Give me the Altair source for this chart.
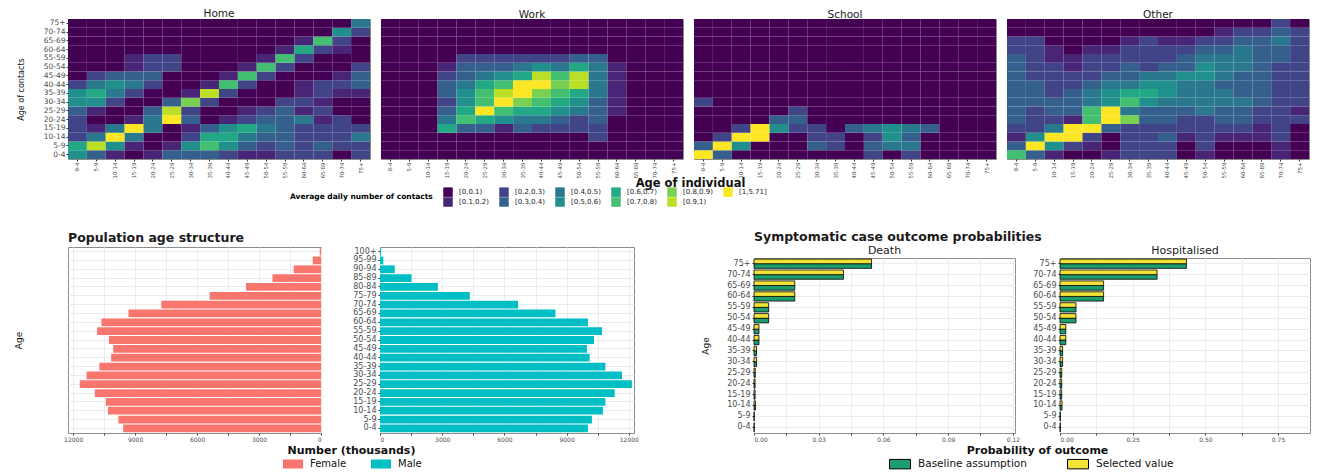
import altair as alt
import pandas as pd

# ---------------- data ----------------
ages = ["0-4", "5-9", "10-14", "15-19", "20-24", "25-29", "30-34", "35-39",
        "40-44", "45-49", "50-54", "55-59", "60-64", "65-69", "70-74", "75+"]
bin_labels = ["[0,0.1)", "[0.1,0.2)", "[0.2,0.3)", "[0.3,0.4)", "[0.4,0.5)", "[0.5,0.6)",
              "[0.6,0.7)", "[0.7,0.8)", "[0.8,0.9)", "[0.9,1)", "[1,5.71]"]
bin_colors = ["#440154", "#482576", "#414487", "#35608D", "#2A788E", "#21908C",
              "#22A884", "#43BF71", "#7AD151", "#BBDF27", "#FDE725"]
legend_order = ["[0,0.1)", "[0.2,0.3)", "[0.4,0.5)", "[0.6,0.7)", "[0.8,0.9)", "[1,5.71]",
                "[0.1,0.2)", "[0.3,0.4)", "[0.5,0.6)", "[0.7,0.8)", "[0.9,1)"]
settings = ["Home", "Work", "School", "Other"]

# contact-bin codes (hex digit = index into bin_labels); row = age of contacts (0-4 first),
# column = age of individual
home_rows = [
    "5310133321122202", "6951015753232322", "24a4002664332224", "214a401356432222",
    "20014a3012334120", "3100392001231200", "5520038200022100", "5642001920001211",
    "2454200172001223", "0233300017200013", "0001220001720002", "0001220000172000",
    "0000000000016210", "0000000000001720", "0000000000000052", "0000000000000004",
]
work_rows = [
    "0000000000000000", "0000000000000000", "0000000000020000", "0006331322220000",
    "0004765443230000", "00036a7665431000", "000257a876531000", "0003579a87641000",
    "0003467aa8941000", "0002345697941000", "0001333454641000", "0000222222330000",
    "0000000000000000", "0000000000000000", "0000000000000000", "0000000000000000",
]
school_rows = [
    "a300000002020000", "3a50003203440000", "02aa002202530000", "002a522034543000",
    "0000330000000000", "0000020000000000", "2000000000000000", "0000000000000000",
    "0000000000000000", "0000000000000000", "0000000000000000", "0000000000000000",
    "0000000000000000", "0000000000000000", "0000000000000000", "0000000000000000",
]
other_rows = [
    "7310012220100010", "3a52102220200010", "15aa202231211120", "224aa32222222120",
    "32217a8332233222", "32337a4333433221", "3333457544444322", "3323456654443322",
    "3322344554433322", "3222233445543322", "3221223233544322", "3211222223444332",
    "2210112222334332", "2200001211223342", "0000000000012232", "0000000000000020",
]
matrices = [home_rows, work_rows, school_rows, other_rows]

pyr_ages = ["0-4", "5-9", "10-14", "15-19", "20-24", "25-29", "30-34", "35-39", "40-44",
            "45-49", "50-54", "55-59", "60-64", "65-69", "70-74", "75-79", "80-84",
            "85-89", "90-94", "95-99", "100+"]
female = [9580, 9810, 10320, 10420, 10950, 11680, 11350, 10730, 10160, 10060, 10270,
          10840, 10630, 9320, 7730, 5390, 3630, 2350, 1320, 400, 60]
male = [10030, 10220, 10750, 10870, 11320, 12150, 11670, 10870, 10110, 9980, 10320,
        10710, 10030, 8460, 6660, 4330, 2790, 1520, 710, 160, 50]

death_baseline = [0.0001, 0.0001, 0.0007, 0.0005, 0.0005, 0.0006, 0.0012, 0.0012,
                  0.0023, 0.0023, 0.0068, 0.0068, 0.0189, 0.0189, 0.0415, 0.0545]
death_selected = [0.0001, 0.0001, 0.0007, 0.0005, 0.0005, 0.0006, 0.0012, 0.0012,
                  0.0023, 0.0023, 0.0068, 0.0068, 0.0189, 0.0189, 0.0415, 0.0545]
hosp_baseline = [0.001, 0.001, 0.007, 0.006, 0.006, 0.006, 0.009, 0.009,
                 0.020, 0.020, 0.055, 0.055, 0.150, 0.150, 0.334, 0.435]
hosp_selected = [0.001, 0.001, 0.007, 0.006, 0.006, 0.006, 0.009, 0.009,
                 0.020, 0.020, 0.055, 0.055, 0.150, 0.150, 0.334, 0.435]

series_names = ["Baseline assumption", "Selected value"]
series_colors = ["#1B9E6E", "#F2E33A"]
sex_names = ["Female", "Male"]
sex_colors = ["#F8766D", "#00BFC4"]

# ---------------- tables ----------------
heat_records = []
for s, rows in zip(settings, matrices):
    for i, row in enumerate(rows):
        for j, ch in enumerate(row):
            heat_records.append({"setting": s, "contact": ages[i], "individual": ages[j],
                                 "bin": bin_labels[int(ch, 16)]})
heat_df = pd.DataFrame(heat_records)

pyr_df = pd.DataFrame(
    [{"age": a, "sex": "Female", "pop": v} for a, v in zip(pyr_ages, female)] +
    [{"age": a, "sex": "Male", "pop": v} for a, v in zip(pyr_ages, male)]
)

out_records = []
for kind, base, sel in [("Death", death_baseline, death_selected),
                        ("Hospitalised", hosp_baseline, hosp_selected)]:
    for a, b, s in zip(ages, base, sel):
        out_records.append({"outcome": kind, "age": a, "series": "Baseline assumption", "prob": b})
        out_records.append({"outcome": kind, "age": a, "series": "Selected value", "prob": s})
out_df = pd.DataFrame(out_records)

FONT = "DejaVu Sans"
LBL = "#4D4D4D"
DARK = "#111111"

# ---------------- heatmaps ----------------
heat_color_scale = alt.Scale(domain=bin_labels, range=bin_colors)


def heat_panel(setting, idx):
    if idx == 0:
        yaxis = alt.Axis(title="Age of contacts", labelFontSize=7.5, tickSize=2, labelPadding=1,
                         titlePadding=18, titleFontSize=8)
        legend = alt.Legend(title="Average daily number of contacts", orient="none",
                            legendX=222, legendY=168, direction="horizontal", columns=6,
                            values=legend_order, titleOrient="left", titleFontSize=7.5,
                            titleFontWeight="bold", titleAnchor="middle", titleBaseline="middle",
                            titlePadding=10, labelFontSize=7, symbolType="square",
                            symbolSize=90, symbolStrokeWidth=0, rowPadding=0,
                            columnPadding=10, labelOffset=6)
    else:
        yaxis = None
        legend = None
    if setting == "Work":
        xaxis = alt.Axis(title="Age of individual", labelAngle=-90, labelFontSize=5.5,
                         tickSize=2, labelPadding=1, titleX=309, titleY=18,
                         titleBaseline="top", titleFontSize=11.5, titleFontWeight="bold",
                         titleColor=DARK)
    else:
        xaxis = alt.Axis(title=None, labelAngle=-90, labelFontSize=5.5, tickSize=2,
                         labelPadding=1)
    return alt.Chart(heat_df).transform_filter(
        alt.datum.setting == setting
    ).mark_rect().encode(
        x=alt.X("individual:N", sort=ages, axis=xaxis),
        y=alt.Y("contact:N", sort=ages[::-1], axis=yaxis),
        color=alt.Color("bin:N", scale=heat_color_scale, legend=legend),
    ).properties(width=302, height=140,
                 title=alt.TitleParams(setting, offset=-1, fontSize=10.5))


top_row = alt.hconcat(*[heat_panel(s, i) for i, s in enumerate(settings)],
                      spacing=11, bounds="flush")

# ---------------- population pyramid ----------------
sex_scale = alt.Scale(domain=sex_names, range=sex_colors)
pyr_ticks = list(range(0, 12001, 1500))
pyr_label_expr = "datum.value % 3000 == 0 ? '' + datum.value : ''"
rect_path = "M-1,-0.45H1V0.45H-1Z"

female_chart = alt.Chart(pyr_df).transform_filter(
    alt.datum.sex == "Female"
).mark_bar().encode(
    x=alt.X("pop:Q", scale=alt.Scale(domain=[0, 12250], reverse=True, nice=False, zero=False),
            axis=alt.Axis(values=pyr_ticks, labelExpr=pyr_label_expr, labelFontSize=6,
                          tickSize=2, labelPadding=1, title="Number (thousands)", titleX=283,
                          titleY=11, titleBaseline="top", titleFontSize=11,
                          titleFontWeight="bold", titleColor=DARK)),
    y=alt.Y("age:N", sort=pyr_ages[::-1],
            scale=alt.Scale(paddingInner=0.12, paddingOuter=0.08),
            axis=alt.Axis(title="Age", labels=False, ticks=False, grid=True,
                          bandPosition=0.5, titlePadding=45, titleFontSize=9)),
    color=alt.Color("sex:N", scale=sex_scale,
                    legend=alt.Legend(title=None, orient="none", legendX=215, legendY=207,
                                      direction="horizontal", symbolType=rect_path,
                                      symbolSize=400, symbolStrokeWidth=0, labelFontSize=10,
                                      labelOffset=7, columnPadding=24, labelColor=DARK)),
).properties(width=253, height=186,
             title=alt.TitleParams("Population age structure", anchor="start",
                                   fontSize=12.5, fontWeight="bold", offset=3))

male_chart = alt.Chart(pyr_df).transform_filter(
    alt.datum.sex == "Male"
).mark_bar().encode(
    x=alt.X("pop:Q", scale=alt.Scale(domain=[0, 12250], nice=False),
            axis=alt.Axis(values=pyr_ticks, labelExpr=pyr_label_expr, labelFontSize=6,
                          tickSize=2, labelPadding=1, title=None)),
    y=alt.Y("age:N", sort=pyr_ages[::-1],
            scale=alt.Scale(paddingInner=0.12, paddingOuter=0.08),
            axis=alt.Axis(title=None, labelFontSize=8, tickSize=2, grid=True,
                          bandPosition=0.5, labelPadding=2)),
    color=alt.Color("sex:N", scale=sex_scale, legend=None),
).properties(width=254, height=186)

pyr_block = alt.hconcat(female_chart, male_chart, spacing=59, bounds="flush")

# ---------------- outcome probabilities ----------------
series_scale = alt.Scale(domain=series_names, range=series_colors)


def outcome_panel(kind, dmax, major, step, width, first):
    n = int(round(dmax / step))
    vals = [round(i * step, 5) for i in range(n + 1)]
    lab = ("abs(datum.value / %s - round(datum.value / %s)) < 0.001 ? format(datum.value, '.2f') : ''"
           % (major, major))
    if first:
        xaxis = alt.Axis(values=vals, labelExpr=lab, labelFontSize=6, tickSize=2, labelPadding=1,
                         title="Probability of outcome", titleX=283, titleY=11,
                         titleBaseline="top", titleFontSize=11, titleFontWeight="bold",
                         titleColor=DARK)
        yaxis = alt.Axis(title="Age", labelFontSize=8, tickSize=2, grid=True, bandPosition=0.5,
                         titleFontSize=9, titlePadding=16)
        legend = alt.Legend(title=None, orient="none", legendX=135, legendY=206,
                            direction="horizontal", symbolType=rect_path, symbolSize=441,
                            symbolStrokeColor="black", symbolStrokeWidth=1, labelFontSize=10.5,
                            labelOffset=7, columnPadding=38, labelColor=DARK)
    else:
        xaxis = alt.Axis(values=vals, labelExpr=lab, labelFontSize=6, tickSize=2, labelPadding=1,
                         title=None)
        yaxis = alt.Axis(title=None, labelFontSize=8, tickSize=2, grid=True, bandPosition=0.5)
        legend = None
    return alt.Chart(out_df).transform_filter(
        alt.datum.outcome == kind
    ).mark_bar(stroke="black", strokeWidth=0.8).encode(
        x=alt.X("prob:Q", scale=alt.Scale(domain=[0, dmax], nice=False), axis=xaxis),
        y=alt.Y("age:N", sort=ages[::-1],
                scale=alt.Scale(paddingInner=0.15, paddingOuter=0.1), axis=yaxis),
        yOffset=alt.YOffset("series:N", sort=["Selected value", "Baseline assumption"]),
        color=alt.Color("series:N", scale=series_scale, legend=legend),
    ).properties(width=width, height=175,
                 title=alt.TitleParams(kind, fontSize=11, offset=2))


death_chart = outcome_panel("Death", 0.121, 0.03, 0.015, 261, True)
hosp_chart = outcome_panel("Hospitalised", 0.86, 0.25, 0.125, 250, False)

# empty 1-px strip that pushes the two outcome panels below their strip labels
spacer = alt.Chart(pd.DataFrame({"v": [0]})).mark_point(opacity=0).encode(
    x=alt.X("v:Q", axis=None), y=alt.Y("v:Q", axis=None)
).properties(width=1, height=1, view=alt.ViewBackground(strokeOpacity=0))

out_inner = alt.hconcat(death_chart, hosp_chart, spacing=45, bounds="flush")
out_block = alt.vconcat(spacer, out_inner, spacing=10, bounds="flush").properties(
    title=alt.TitleParams("Symptomatic case outcome probabilities", anchor="start",
                          fontSize=12.5, fontWeight="bold", offset=1)
)

bottom_row = alt.hconcat(pyr_block, out_block, spacing=62).resolve_scale(color="independent")

chart = alt.vconcat(top_row, bottom_row, spacing=24).resolve_scale(
    color="independent"
).properties(
    padding={"left": 5, "top": 0, "right": 0, "bottom": 0}
).configure(
    font=FONT
).configure_view(
    stroke="#8C8C8C", strokeWidth=1
).configure_axis(
    labelColor=LBL, tickColor="#333333", domain=False, gridColor="#EBEBEB",
    titleFontWeight="normal", titleColor=DARK
).configure_title(
    fontSize=9, fontWeight="normal", color="#1A1A1A", frame="group", offset=2
).configure_legend(
    labelColor="#1A1A1A"
)

chart.save("out.html", embed_options={"renderer": "svg", "actions": False})
